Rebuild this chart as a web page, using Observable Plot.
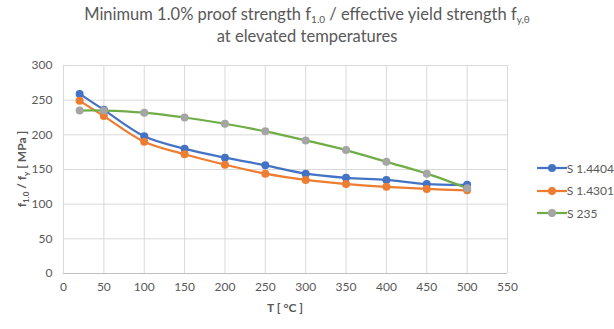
<!DOCTYPE html>
<html><head><meta charset="utf-8">
<script src="https://cdn.jsdelivr.net/npm/d3@7"></script>
<script src="https://cdn.jsdelivr.net/npm/@observablehq/plot@0.6"></script>
<style>
body{margin:0;background:#fff;}
#wrap{position:relative;width:614px;height:329px;font-family:Lato,"Liberation Sans",sans-serif;color:#595959;}
#title{position:absolute;left:0;top:3px;width:614px;text-align:center;font-size:16.5px;line-height:22px;white-space:nowrap;}
#title sub{font-size:10px;vertical-align:-3px;line-height:0;}
#chart{position:absolute;left:0;top:55px;}
#legend{position:absolute;left:537px;top:157px;font-size:12px;width:77px;}
.li{height:22.5px;display:flex;align-items:center;white-space:nowrap;}
</style></head><body>
<div id="wrap">
<div id="title">Minimum 1.0% proof strength f<sub>1.0</sub> / effective yield strength f<sub>y,θ</sub><br>at elevated temperatures</div>
<div id="chart"></div>
<div id="legend"></div>
</div>
<script>
const temps = [20, 50, 100, 150, 200, 250, 300, 350, 400, 450, 500];
const s14404 = [259, 236, 198, 180, 167, 156, 144, 138, 135, 129, 128];
const s14301 = [249, 227, 190, 172, 157, 144, 135, 129, 125, 122, 120];
const s235 = [235, 235, 232, 225, 216, 205, 192, 178, 161, 144, 123];
const seriesNames = ["S 1.4404", "S 1.4301", "S 235"];
const lineColors = ["#4472C4", "#ED7D31", "#70AD47"];
const dotColors = ["#4472C4", "#ED7D31", "#A5A5A5"];
const xTicks = [0, 50, 100, 150, 200, 250, 300, 350, 400, 450, 500, 550];
const yTicks = [0, 50, 100, 150, 200, 250, 300];

const allSeries = [s14404, s14301, s235];
const rows = [];
allSeries.forEach((vals, i) => vals.forEach((v, j) => rows.push({series: seriesNames[i], T: temps[j], v})));

const marks = [
  Plot.gridX(xTicks, {stroke: "#d9d9d9", strokeOpacity: 1}),
  Plot.gridY(yTicks.filter(d => d > 0), {stroke: "#d9d9d9", strokeOpacity: 1}),
  Plot.ruleY([0], {stroke: "#bfbfbf"}),
  Plot.axisX(xTicks, {tickSize: 0, tickPadding: 9, label: null, fill: "#595959"}),
  Plot.axisY(yTicks, {tickSize: 0, tickPadding: 11, label: null, fill: "#595959"})
];
seriesNames.forEach((name, i) => {
  const d = rows.filter(r => r.series === name);
  marks.push(Plot.line(d, {x: "T", y: "v", stroke: lineColors[i], strokeWidth: 2.25, curve: "catmull-rom"}));
});
seriesNames.forEach((name, i) => {
  const d = rows.filter(r => r.series === name);
  marks.push(Plot.dot(d, {x: "T", y: "v", fill: dotColors[i], r: 4, stroke: "none"}));
});

const plot = Plot.plot({
  width: 614, height: 274,
  marginTop: 10, marginLeft: 63, marginRight: 107, marginBottom: 56,
  style: {fontFamily: "Lato, 'Liberation Sans', sans-serif", fontSize: "12px", color: "#595959", background: "#fff"},
  x: {domain: [0, 550]},
  y: {domain: [0, 300]},
  marks
});
document.getElementById("chart").appendChild(plot);

// axis titles with subscripts
const svg = d3.select(plot);
svg.append("text").attr("x", 285).attr("y", 257).attr("text-anchor", "middle")
  .attr("font-weight", "bold").attr("fill", "#595959").attr("font-size", "12px").text("T [ °C ]");
const yt = svg.append("text").attr("transform", "translate(26,114) rotate(-90)").attr("text-anchor", "middle")
  .attr("font-weight", "bold").attr("fill", "#595959").attr("font-size", "12px");
yt.append("tspan").text("f");
yt.append("tspan").attr("font-size", "8px").attr("dy", 3).text("1.0");
yt.append("tspan").attr("dy", -3).text(" / f");
yt.append("tspan").attr("font-size", "8px").attr("dy", 3).text("y");
yt.append("tspan").attr("dy", -3).text(" [ MPa ]");

// legend
const leg = document.getElementById("legend");
seriesNames.forEach((name, i) => {
  const div = document.createElement("div");
  div.className = "li";
  div.innerHTML = `<svg width="30" height="10"><line x1="0" x2="30" y1="5" y2="5" stroke="${lineColors[i]}" stroke-width="2.25"/><circle cx="15" cy="5" r="4" fill="${dotColors[i]}"/></svg><span>${name}</span>`;
  leg.appendChild(div);
});
</script>
</body></html>
